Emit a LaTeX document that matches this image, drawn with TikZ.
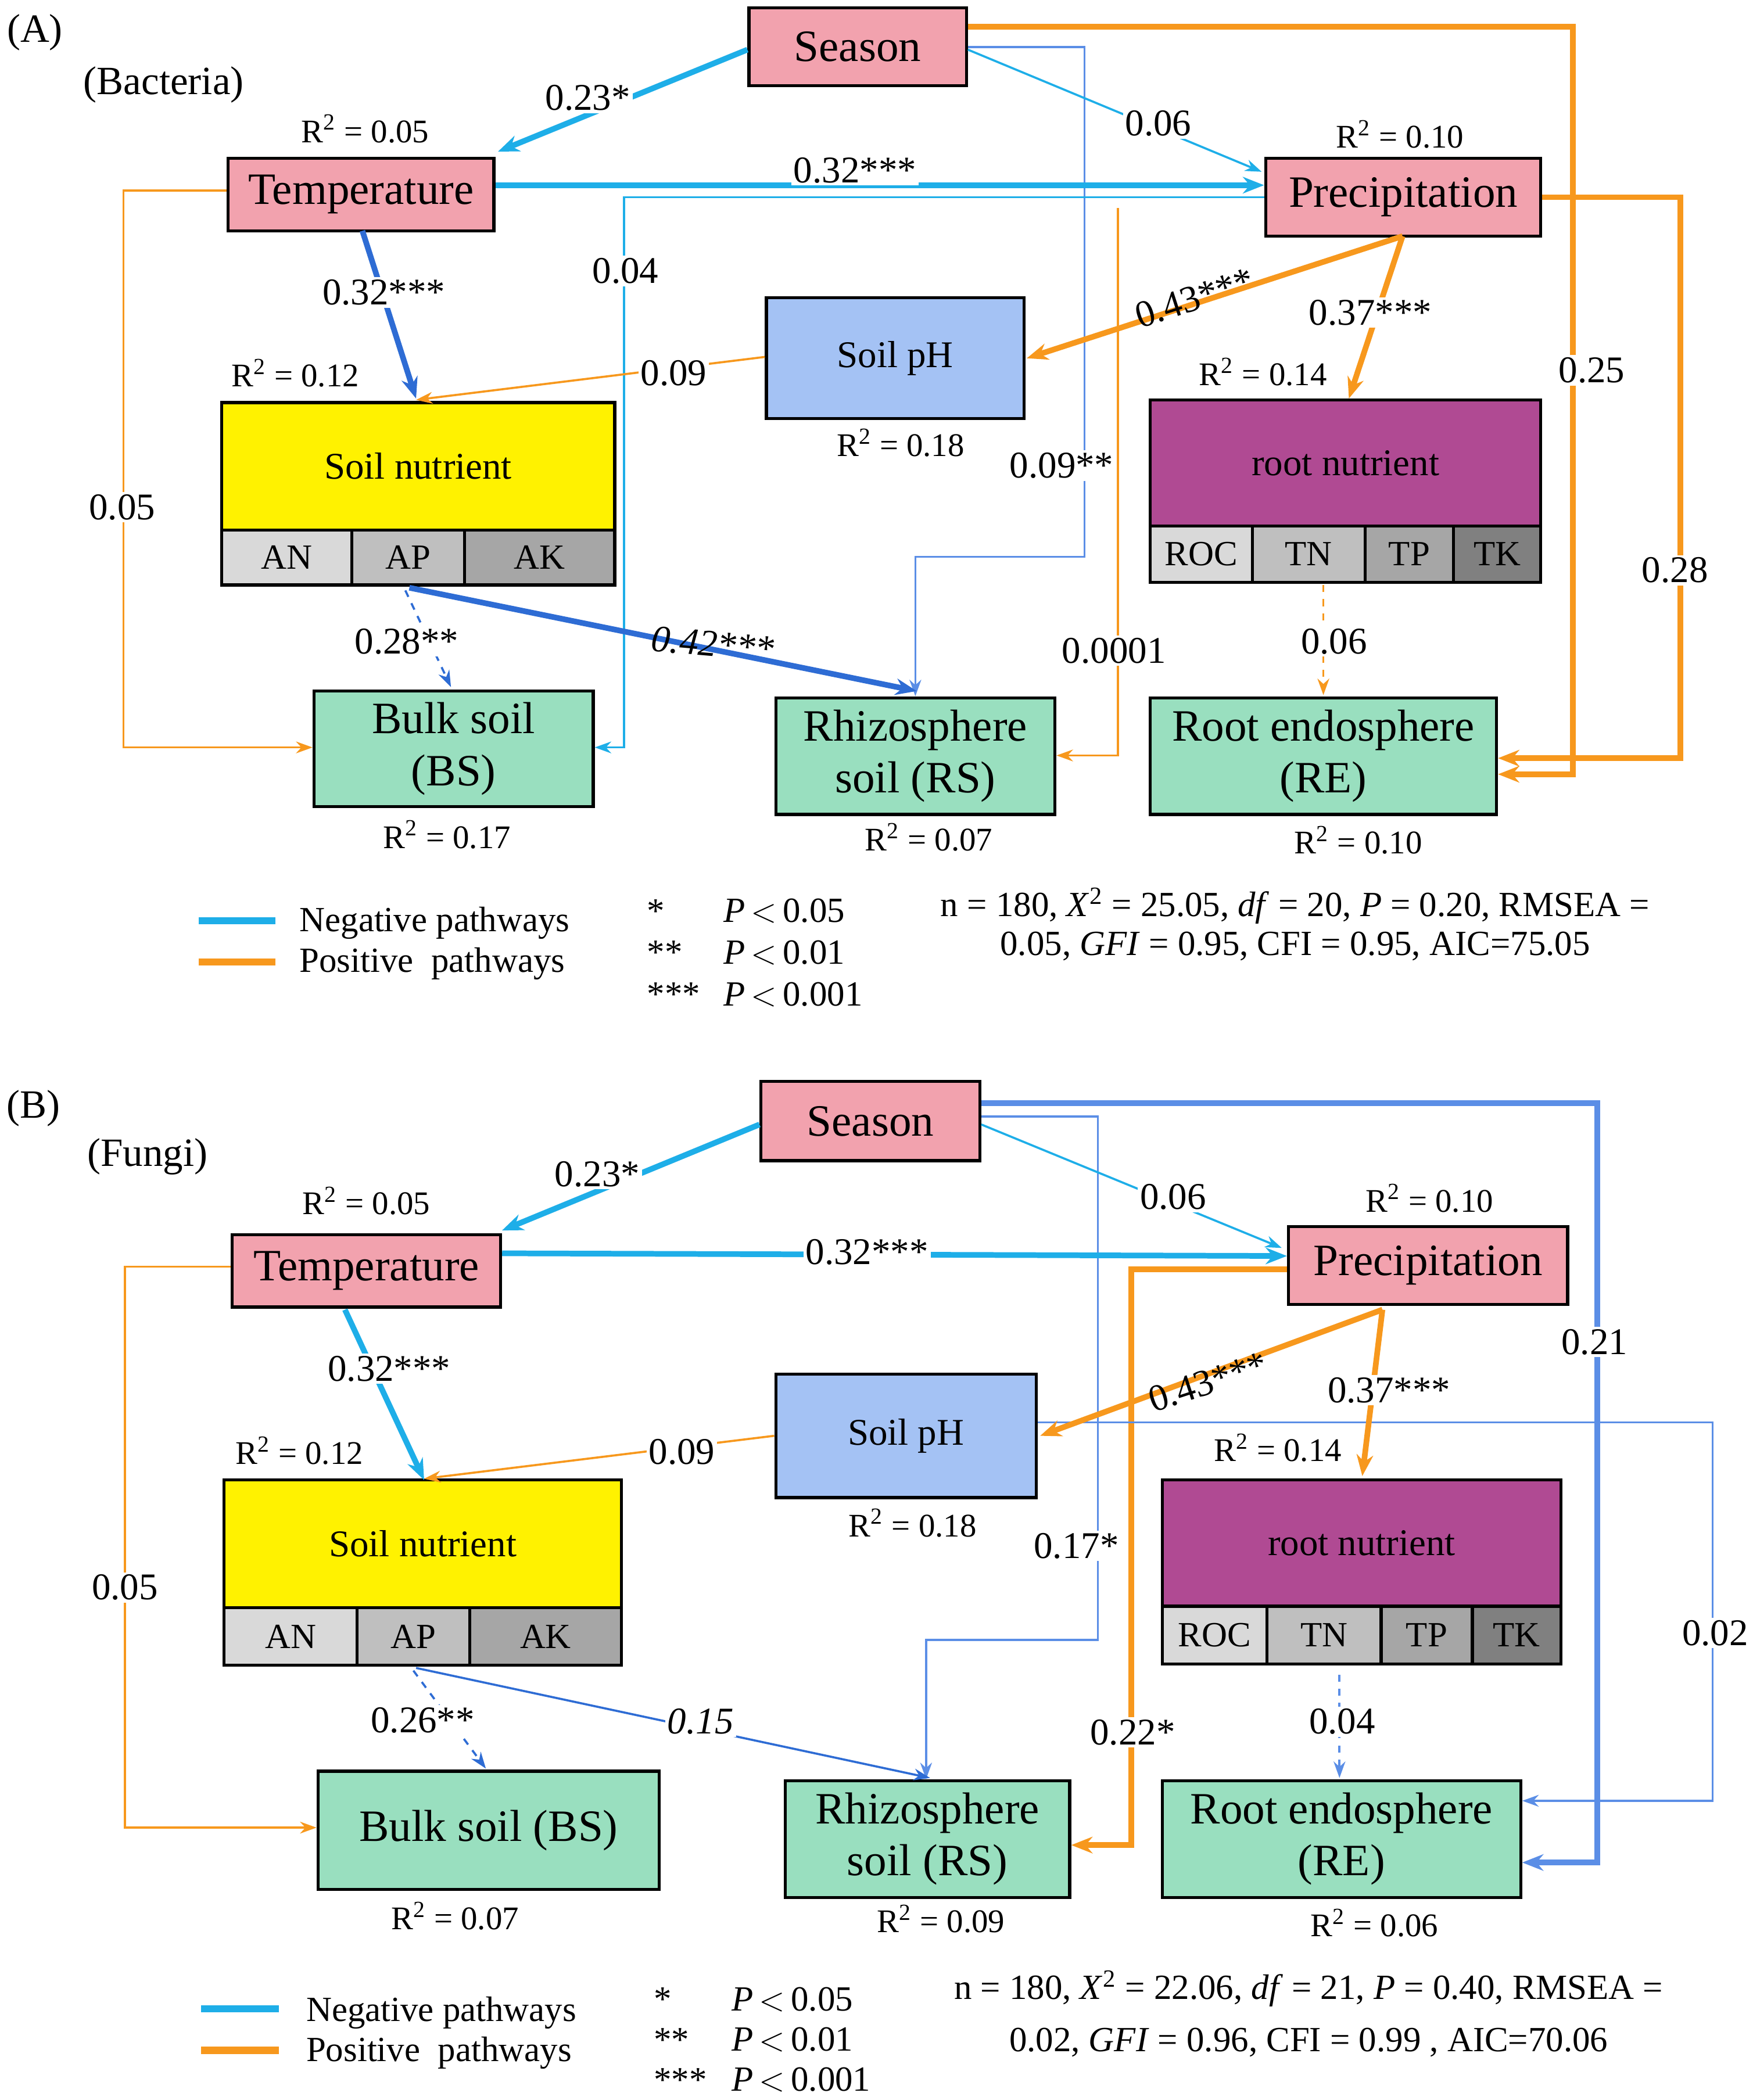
\documentclass[tikz,border=0pt]{standalone}
\usepackage{fontspec}
\setmainfont{Liberation Serif}
\usetikzlibrary{arrows.meta,fit}
\definecolor{pk}{HTML}{F2A2AE}
\definecolor{gr}{HTML}{99DFBF}
\definecolor{pu}{HTML}{B04A93}
\definecolor{bb}{HTML}{A4C2F4}
\definecolor{cy}{HTML}{1EAEE8}
\definecolor{db}{HTML}{2E6CD4}
\definecolor{mb}{HTML}{5B8EE6}
\definecolor{og}{HTML}{F7981D}
\definecolor{g1}{HTML}{D9D9D9}
\definecolor{g2}{HTML}{BFBFBF}
\definecolor{g3}{HTML}{A6A6A6}
\definecolor{g4}{HTML}{808080}
\tikzset{
 bx/.style={draw=black,line width=1.3pt,inner sep=0pt},
 big/.style={font=\fontsize{19}{22}\selectfont,align=center},
 mid/.style={font=\fontsize{16}{19}\selectfont},
 cell/.style={font=\fontsize{15}{18}\selectfont},
 lb/.style={font=\fontsize{16}{19}\selectfont,fill=white,inner sep=1pt},
 lbn/.style={font=\fontsize{16}{19}\selectfont,inner sep=1pt},
 rr/.style={font=\fontsize{14}{17}\selectfont},
 tk/.style={line width=2.4pt},
 tn/.style={line width=0.9pt},
 ar/.style={-{Stealth[length=9pt,width=7pt]}},
 ars/.style={-{Stealth[length=7pt,width=5pt]}},
 leg/.style={font=\fontsize{15}{18}\selectfont,anchor=west},
}
% \bxn{name}{x1}{y1}{x2}{y2}{fill}{style}{text}
\newcommand{\bxn}[8]{%
 \node[bx,fill=#6,fit={(#2,#3)(#4,#5)}] (#1) {};
 \node[#7] (#1t) at (#1.center) {#8};}
\begin{document}
\begin{tikzpicture}[x=0.02cm,y=-0.02cm]
\useasboundingbox (0,0) rectangle (1306,1565);
% ================= PANEL A =================
\node[font=\fontsize{17}{20}\selectfont] (lA) at (26,24) {(A)};
\node[font=\fontsize{17}{20}\selectfont] (lBac) at (122,63) {(Bacteria)};
\bxn{sA}{558}{6}{720}{64}{pk}{big}{Season}
\bxn{tA}{170}{118}{368}{172}{pk}{big}{Temperature}
\bxn{pA}{943}{118}{1148}{176}{pk}{big}{Precipitation}
\bxn{phA}{571}{222}{763}{312}{bb}{mid}{Soil pH}
\bxn{snA}{165}{300}{458}{395}{yellow}{mid}{Soil nutrient}
\bxn{anA}{165}{395}{262}{436}{g1}{cell}{AN}
\bxn{apA}{262}{395}{346}{436}{g2}{cell}{AP}
\bxn{akA}{346}{395}{458}{436}{g3}{cell}{AK}
\bxn{rnA}{857}{298}{1148}{392}{pu}{mid}{root nutrient}
\bxn{rocA}{857}{392}{933}{434}{g1}{cell}{ROC}
\bxn{tnA}{933}{392}{1017}{434}{g2}{cell}{TN}
\bxn{tpA}{1017}{392}{1083}{434}{g3}{cell}{TP}
\bxn{tkA}{1083}{392}{1148}{434}{g4}{cell}{TK}
\bxn{bsA}{234}{515}{442}{601}{gr}{big}{Bulk soil\\(BS)}
\bxn{rsA}{578}{520}{786}{607}{gr}{big}{Rhizosphere\\soil (RS)}
\bxn{reA}{857}{520}{1115}{607}{gr}{big}{Root endosphere\\(RE)}
% R2
\node[rr] (r1) at (272,96) {R\textsuperscript{2} = 0.05};
\node[rr] (r2) at (1043,100) {R\textsuperscript{2} = 0.10};
\node[rr] (r3) at (220,278) {R\textsuperscript{2} = 0.12};
\node[rr] (r4) at (671,330) {R\textsuperscript{2} = 0.18};
\node[rr] (r5) at (941,277) {R\textsuperscript{2} = 0.14};
\node[rr] (r6) at (333,622) {R\textsuperscript{2} = 0.17};
\node[rr] (r7) at (692,624) {R\textsuperscript{2} = 0.07};
\node[rr] (r8) at (1012,626) {R\textsuperscript{2} = 0.10};
% connectors A
\coordinate (a1) at (1172,20); \coordinate (a2) at (1172,577);
\draw[og,tk,ar] (sA.east |- a1) -- (a1) -- (a2) -- (reA.east |- a2);
\coordinate (a3) at (1252,147); \coordinate (a4) at (1252,565);
\draw[og,tk,ar] (pA.east |- a3) -- (a3) -- (a4) -- (reA.east |- a4);
\coordinate (a5) at (808,35); \coordinate (a6) at (808,415); \coordinate (a7) at (682,415);
\draw[mb,tn,ars] (sA.east |- a5) -- (a5) -- (a6) -- (a7) -- (a7 |- rsA.north);
\coordinate (a8) at (465,147); \coordinate (a9) at (465,557);
\draw[cy,tn,ars] (pA.west |- a8) -- (a8) -- (a9) -- (bsA.east |- a9);
\coordinate (a10) at (833,155); \coordinate (a11) at (833,563);
\draw[og,tn,ars] (a10) -- (a11) -- (rsA.east |- a11);
\coordinate (a12) at (92,142); \coordinate (a13) at (92,557);
\draw[og,tn,ars] (tA.west |- a12) -- (a12) -- (a13) -- (bsA.west |- a13);
\draw[cy,tk,ar] (sA.west |- 0,37) -- (371,113);
\draw[cy,tn,ars] (sA.east |- 0,37) -- (940,128);
\draw[cy,tk,ar] (tA.east |- 0,138) -- (pA.west |- 0,138);
\draw[db,tk,ar] (270,172) -- (310,297);
\draw[og,tk,ar] (1045,176) -- (765,267);
\draw[og,tk,ar] (1045,176) -- (1005,297);
\draw[og,tn,ars] (phA.west |- 0,266) -- (310,298);
\draw[db,tk,ar] (305,438) -- (683,515);
\draw[db,tn,ars,dashed] (302,440) -- (336,512);
\draw[og,tn,ars,dashed] (986,436) -- (986,518);
% labels A
\node[lb] (l1) at (438,73) {0.23*};
\node[lb] (l2) at (863,92) {0.06};
\node[lb] (l3) at (637,127) {0.32***};
\node[lb] (l4) at (286,218) {0.32***};
\node[lb] (l5) at (466,202) {0.04};
\node[lb] (l6) at (502,278) {0.09};
\node[lbn,rotate=18] (l7) at (890,222) {0.43***};
\node[lb] (l8) at (1021,233) {0.37***};
\node[lb] (l9) at (1186,276) {0.25};
\node[lb] (l10) at (1248,425) {0.28};
\node[lb] (l11) at (91,378) {0.05};
\node[lb] (l12) at (791,347) {0.09**};
\node[lb] (l13) at (830,485) {0.0001};
\node[lb] (l14) at (994,478) {0.06};
\node[lb] (l15) at (303,478) {0.28**};
\node[lbn,font=\fontsize{16}{19}\selectfont\itshape,rotate=-5] (l16) at (531,480) {0.42***};
% legend A
\coordinate (la1) at (148,686); \coordinate (la2) at (205,686);
\draw[cy,line width=3pt] (la1) -- (la2);
\coordinate (la3) at (148,717); \coordinate (la4) at (205,717);
\draw[og,line width=3pt] (la3) -- (la4);
\node[leg] (n1) at (217,688) {Negative\ pathways};
\node[leg] (n2) at (217,718) {Positive\ \ pathways};
\node[leg] (s1) at (476,679) {*};
\node[leg] (s2) at (476,710) {**};
\node[leg] (s3) at (476,741) {***};
\node[leg] (p1) at (533,679) {\textit{P}\,$<$\,0.05};
\node[leg] (p2) at (533,710) {\textit{P}\,$<$\,0.01};
\node[leg] (p3) at (533,741) {\textit{P}\,$<$\,0.001};
\node[leg,anchor=center] (st1) at (965,675) {n = 180, \textit{X}\textsuperscript{2} = 25.05, \textit{df} = 20, \textit{P} = 0.20, RMSEA =};
\node[leg,anchor=center] (st2) at (965,705) {0.05, \textit{GFI} = 0.95, CFI = 0.95, AIC=75.05};
% ================= PANEL B =================
\node[font=\fontsize{17}{20}\selectfont] (lB) at (25,826) {(B)};
\node[font=\fontsize{17}{20}\selectfont] (lFu) at (110,862) {(Fungi)};
\bxn{sB}{567}{806}{730}{865}{pk}{big}{Season}
\bxn{tB}{173}{920}{373}{974}{pk}{big}{Temperature}
\bxn{pB}{960}{914}{1168}{972}{pk}{big}{Precipitation}
\bxn{phB}{578}{1024}{772}{1116}{bb}{mid}{Soil pH}
\bxn{snB}{167}{1103}{463}{1198}{yellow}{mid}{Soil nutrient}
\bxn{anB}{167}{1198}{266}{1241}{g1}{cell}{AN}
\bxn{apB}{266}{1198}{350}{1241}{g2}{cell}{AP}
\bxn{akB}{350}{1198}{463}{1241}{g3}{cell}{AK}
\bxn{rnB}{866}{1103}{1163}{1197}{pu}{mid}{root nutrient}
\bxn{rocB}{866}{1197}{944}{1240}{g1}{cell}{ROC}
\bxn{tnB}{944}{1197}{1029}{1240}{g2}{cell}{TN}
\bxn{tpB}{1029}{1197}{1097}{1240}{g3}{cell}{TP}
\bxn{tkB}{1097}{1197}{1163}{1240}{g4}{cell}{TK}
\bxn{bsB}{237}{1320}{491}{1408}{gr}{big}{Bulk soil (BS)}
\bxn{rsB}{585}{1327}{797}{1414}{gr}{big}{Rhizosphere\\soil (RS)}
\bxn{reB}{866}{1327}{1133}{1414}{gr}{big}{Root endosphere\\(RE)}
\node[rr] (q1) at (273,895) {R\textsuperscript{2} = 0.05};
\node[rr] (q2) at (1065,893) {R\textsuperscript{2} = 0.10};
\node[rr] (q3) at (223,1081) {R\textsuperscript{2} = 0.12};
\node[rr] (q4) at (680,1135) {R\textsuperscript{2} = 0.18};
\node[rr] (q5) at (952,1079) {R\textsuperscript{2} = 0.14};
\node[rr] (q6) at (339,1428) {R\textsuperscript{2} = 0.07};
\node[rr] (q7) at (701,1430) {R\textsuperscript{2} = 0.09};
\node[rr] (q8) at (1024,1433) {R\textsuperscript{2} = 0.06};
% connectors B
\coordinate (b1) at (1190,822); \coordinate (b2) at (1190,1388);
\draw[mb,tk,ar] (sB.east |- b1) -- (b1) -- (b2) -- (reB.east |- b2);
\coordinate (b3) at (818,832); \coordinate (b4) at (818,1222); \coordinate (b5) at (690,1222);
\draw[mb,tn,ars] (sB.east |- b3) -- (b3) -- (b4) -- (b5) -- (b5 |- rsB.north);
\coordinate (b6) at (93,944); \coordinate (b7) at (93,1362);
\draw[og,tn,ars] (tB.west |- b6) -- (b6) -- (b7) -- (bsB.west |- b7);
\coordinate (b8) at (843,946); \coordinate (b9) at (843,1375);
\draw[og,tk,ar] (pB.west |- b8) -- (b8) -- (b9) -- (rsB.east |- b9);
\coordinate (b10) at (1276,1060); \coordinate (b11) at (1276,1342);
\draw[mb,tn,ars] (phB.east |- b10) -- (b10) -- (b11) -- (reB.east |- b11);
\draw[cy,tk,ar] (sB.west |- 0,838) -- (374,917);
\draw[cy,tn,ars] (sB.east |- 0,838) -- (955,930);
\draw[cy,tk,ar] (tB.east |- 0,934) -- (pB.west |- 0,936);
\draw[cy,tk,ar] (257,976) -- (316,1103);
\draw[og,tk,ar] (1030,976) -- (775,1070);
\draw[og,tk,ar] (1030,976) -- (1015,1100);
\draw[og,tn,ars] (phB.west |- 0,1070) -- (316,1102);
\draw[db,tn,ars] (310,1243) -- (693,1325);
\draw[db,tn,ars,dashed] (308,1245) -- (362,1318);
\draw[mb,tn,ars,dashed] (998,1248) -- (998,1325);
% labels B
\node[lb] (m1) at (445,875) {0.23*};
\node[lb] (m2) at (874,892) {0.06};
\node[lb] (m3) at (646,933) {0.32***};
\node[lb] (m4) at (290,1020) {0.32***};
\node[lb] (m5) at (508,1082) {0.09};
\node[lbn,rotate=18] (m6) at (900,1030) {0.43***};
\node[lb] (m7) at (1035,1036) {0.37***};
\node[lb] (m8) at (1188,1000) {0.21};
\node[lb] (m9) at (93,1183) {0.05};
\node[lb] (m10) at (802,1152) {0.17*};
\node[lb] (m11) at (844,1291) {0.22*};
\node[lb] (m12) at (1278,1217) {0.02};
\node[lb] (m13) at (1000,1283) {0.04};
\node[lb] (m14) at (315,1282) {0.26**};
\node[lb,font=\fontsize{16}{19}\selectfont\itshape] (m15) at (522,1283) {0.15};
% legend B
\coordinate (lb1) at (150,1497); \coordinate (lb2) at (208,1497);
\draw[cy,line width=3pt] (lb1) -- (lb2);
\coordinate (lb3) at (150,1528); \coordinate (lb4) at (208,1528);
\draw[og,line width=3pt] (lb3) -- (lb4);
\node[leg] (o1) at (222,1500) {Negative\ pathways};
\node[leg] (o2) at (222,1530) {Positive\ \ pathways};
\node[leg] (t1) at (481,1490) {*};
\node[leg] (t2) at (481,1520) {**};
\node[leg] (t3) at (481,1550) {***};
\node[leg] (u1) at (539,1490) {\textit{P}\,$<$\,0.05};
\node[leg] (u2) at (539,1520) {\textit{P}\,$<$\,0.01};
\node[leg] (u3) at (539,1550) {\textit{P}\,$<$\,0.001};
\node[leg,anchor=center] (sb1) at (975,1482) {n = 180, \textit{X}\textsuperscript{2} = 22.06, \textit{df} = 21, \textit{P} = 0.40, RMSEA =};
\node[leg,anchor=center] (sb2) at (975,1522) {0.02, \textit{GFI} = 0.96, CFI = 0.99\ , AIC=70.06};
\end{tikzpicture}
\end{document}
